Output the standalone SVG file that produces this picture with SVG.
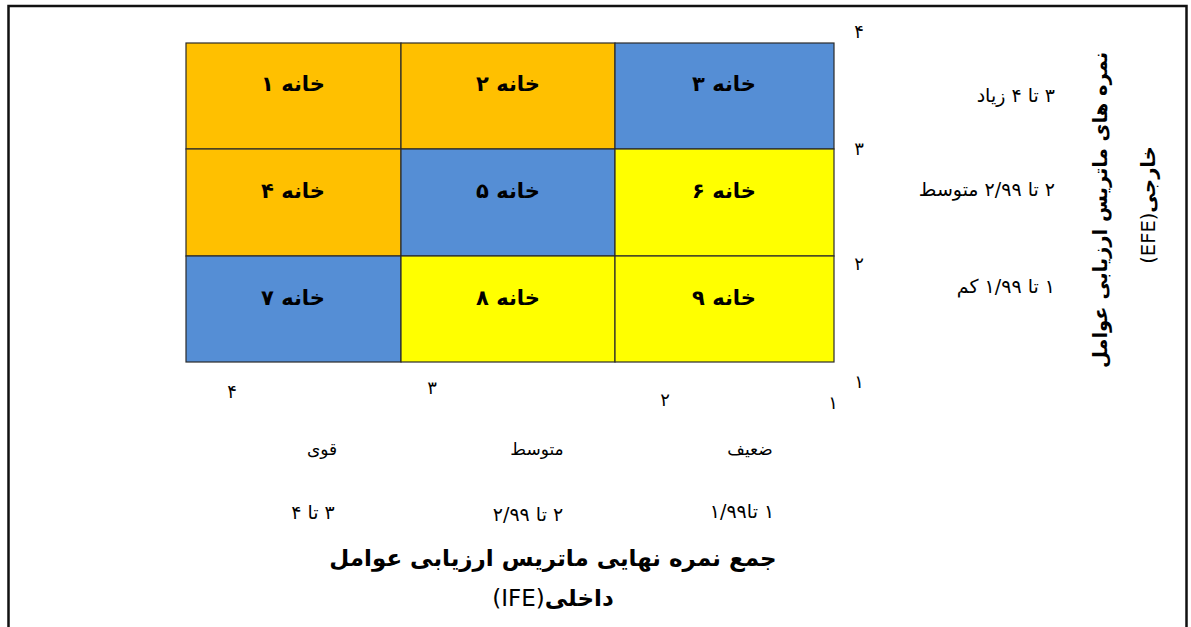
<svg xmlns="http://www.w3.org/2000/svg" width="1191" height="627" viewBox="0 0 1191 627">
  <style>
    .fa { font-family: "DejaVu Sans", "Noto Sans", sans-serif; fill: #000; }
    .cell-label { font-size: 21px; font-weight: bold; }
    .tick { font-size: 18px; }
    .note { font-size: 17px; }
    .range { font-size: 19px; }
    .title { font-size: 23px; font-weight: bold; }
    .vtitle { font-size: 19.5px; font-weight: bold; }
    .latin { font-weight: normal; }
    .cell { stroke: #2b2b2b; stroke-width: 1.2; }
    .orange { fill: #FFC000; }
    .blue { fill: #558ED5; }
    .yellow { fill: #FFFF00; }
  </style>

  <rect width="1191" height="627" fill="#ffffff"/>
  <!-- outer frame -->
  <rect x="8.5" y="6" width="1178" height="640" fill="none" stroke="#111" stroke-width="2.5"/>

  <!-- 3x3 IE matrix -->
  <g id="cell1"><rect class="cell orange" x="186" y="43" width="215" height="106"/><text class="fa cell-label" x="293" y="91" text-anchor="middle" direction="rtl">خانه ۱</text></g>
  <g id="cell2"><rect class="cell orange" x="401" y="43" width="214" height="106"/><text class="fa cell-label" x="508" y="91" text-anchor="middle" direction="rtl">خانه ۲</text></g>
  <g id="cell3"><rect class="cell blue" x="615" y="43" width="219" height="106"/><text class="fa cell-label" x="724" y="91" text-anchor="middle" direction="rtl">خانه ۳</text></g>

  <g id="cell4"><rect class="cell orange" x="186" y="149" width="215" height="107"/><text class="fa cell-label" x="293" y="198" text-anchor="middle" direction="rtl">خانه ۴</text></g>
  <g id="cell5"><rect class="cell blue" x="401" y="149" width="214" height="107"/><text class="fa cell-label" x="508" y="198" text-anchor="middle" direction="rtl">خانه ۵</text></g>
  <g id="cell6"><rect class="cell yellow" x="615" y="149" width="219" height="107"/><text class="fa cell-label" x="724" y="198" text-anchor="middle" direction="rtl">خانه ۶</text></g>

  <g id="cell7"><rect class="cell blue" x="186" y="256" width="215" height="106"/><text class="fa cell-label" x="293" y="305" text-anchor="middle" direction="rtl">خانه ۷</text></g>
  <g id="cell8"><rect class="cell yellow" x="401" y="256" width="214" height="106"/><text class="fa cell-label" x="508" y="305" text-anchor="middle" direction="rtl">خانه ۸</text></g>
  <g id="cell9"><rect class="cell yellow" x="615" y="256" width="219" height="106"/><text class="fa cell-label" x="724" y="305" text-anchor="middle" direction="rtl">خانه ۹</text></g>

  <g id="connectors"/>

  <!-- EFE axis (vertical) ticks -->
  <g id="efe-ticks" class="fa tick" text-anchor="middle">
    <text x="859" y="38">۴</text>
    <text x="859" y="155">۳</text>
    <text x="859" y="270">۲</text>
    <text x="859" y="388">۱</text>
  </g>

  <!-- EFE score ranges -->
  <g id="efe-ranges" class="fa range" direction="rtl" text-anchor="start">
    <text x="1055" y="102">۳ تا ۴ زیاد</text>
    <text x="1055" y="196">۲ تا ۲/۹۹ متوسط</text>
    <text x="1055" y="293">۱ تا ۱/۹۹ کم</text>
  </g>

  <!-- EFE axis title -->
  <g id="efe-title" class="fa vtitle" text-anchor="middle" direction="rtl">
    <text transform="translate(1107,210) rotate(-90)">نمره های ماتریس ارزیابی عوامل</text>
    <text transform="translate(1155,205) rotate(-90)">خارجی<tspan class="latin">(EFE)</tspan></text>
  </g>

  <!-- IFE axis (horizontal) ticks -->
  <g id="ife-ticks" class="fa tick" text-anchor="middle">
    <text x="232" y="398">۴</text>
    <text x="432" y="394">۳</text>
    <text x="665" y="406">۲</text>
    <text x="833" y="409">۱</text>
  </g>

  <!-- IFE categories -->
  <g id="ife-levels" class="fa note" text-anchor="middle" direction="rtl">
    <text x="322" y="455">قوی</text>
    <text x="537" y="455">متوسط</text>
    <text x="750" y="455">ضعیف</text>
  </g>

  <g id="ife-ranges" class="fa range" text-anchor="middle" direction="rtl">
    <text x="313" y="519">۳ تا ۴</text>
    <text x="528" y="521">۲ تا ۲/۹۹</text>
    <text x="742" y="518">۱ تا۱/۹۹</text>
  </g>

  <!-- IFE axis title -->
  <g id="ife-title" class="fa title" text-anchor="middle" direction="rtl">
    <text x="553" y="566">جمع نمره نهایی ماتریس ارزیابی عوامل</text>
    <text x="553" y="606">داخلی<tspan class="latin">(IFE)</tspan></text>
  </g>
</svg>
